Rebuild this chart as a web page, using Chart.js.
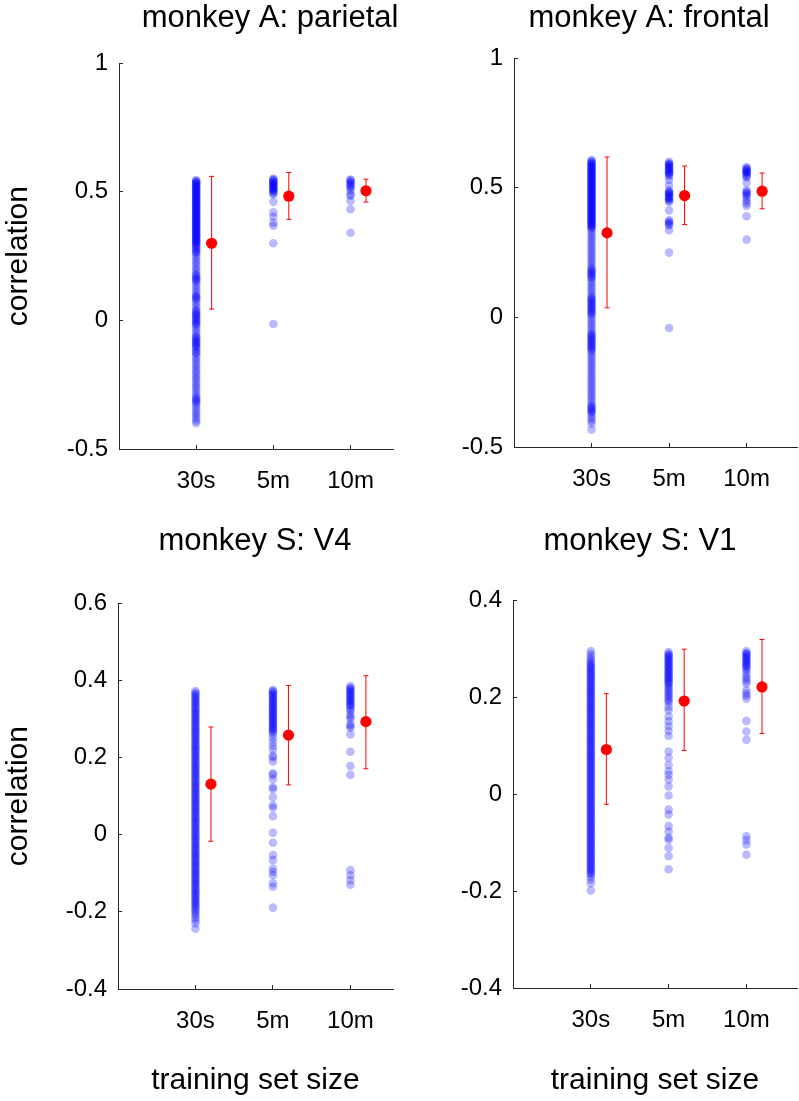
<!DOCTYPE html>
<html>
<head>
<meta charset="utf-8">
<script src="https://cdn.jsdelivr.net/npm/chart.js@4"></script>
<style>
  html, body { margin: 0; padding: 0; background: #fff; overflow: hidden; }
  body { width: 799px; height: 1101px; position: relative; }
  canvas { position: absolute; }
</style>
</head>
<body>
<canvas id="c1" width="540" height="520" style="left:0px;top:0px"></canvas>
<canvas id="c2" width="498" height="520" style="left:400px;top:0px"></canvas>
<canvas id="c3" width="510" height="581" style="left:0px;top:520px"></canvas>
<canvas id="c4" width="480" height="581" style="left:400px;top:520px"></canvas>
<script>
// categories on the x axis
const categories = ['30s', '5m', '10m'];
const catX = [1, 2, 3];
const meanOffset = 0.2;

// monkey A: parietal
const parietal30s = [0.545,0.542,0.54,0.535,0.532,0.53,0.525,0.522,0.52,0.515,0.512,0.51,0.505,0.502,0.5,0.495,0.492,0.49,0.485,0.482,0.48,0.475,0.472,0.47,0.465,0.462,0.46,0.455,0.452,0.45,0.445,0.442,0.44,0.435,0.432,0.43,0.425,0.422,0.42,0.415,0.412,0.41,0.405,0.402,0.4,0.395,0.392,0.39,0.385,0.382,0.38,0.375,0.372,0.37,0.365,0.362,0.36,0.355,0.352,0.35,0.345,0.342,0.34,0.335,0.332,0.33,0.325,0.322,0.32,0.315,0.312,0.31,0.305,0.302,0.3,0.295,0.29,0.285,0.28,0.275,0.27,0.265,0.26,
  0.25,0.24,0.23,0.22,0.21,0.2,0.19,0.18,0.175,0.17,0.165,0.16,0.155,0.15,0.14,0.13,0.12,0.11,0.1,0.095,0.09,0.085,0.08,0.07,0.06,0.05,0.04,0.035,0.03,0.025,0.02,0.015,0.01,0.005,0,-0.005,-0.01,-0.015,-0.02,-0.03,-0.04,-0.05,-0.06,-0.065,-0.07,-0.075,-0.08,-0.085,-0.09,-0.095,-0.1,-0.105,-0.11,-0.12,-0.125,-0.13,-0.14,-0.15,-0.16,-0.17,-0.18,-0.19,-0.2,-0.21,-0.22,-0.23,-0.24,-0.25,-0.26,-0.27,-0.28,-0.29,-0.3,-0.305,-0.31,-0.315,-0.32,-0.33,-0.34,-0.35,-0.36,-0.37,-0.38,-0.39,-0.4];
const parietal5m = [0.552,0.548,0.545,0.54,0.538,0.535,0.53,0.528,0.525,0.52,0.518,0.515,0.51,0.508,0.505,0.5,0.495,0.49,0.461,0.42,0.403,0.38,0.368,0.3,-0.014];
const parietal10m = [0.548,0.545,0.54,0.535,0.53,0.525,0.52,0.515,0.505,0.49,0.485,0.464,0.432,0.341];
const parietalMean = [0.30, 0.483, 0.504];
const parietalLo = [0.044, 0.393, 0.46];
const parietalHi = [0.56, 0.575, 0.549];
const parietalTicks = [-0.5, 0, 0.5, 1];
const parietalTickLabels = ['-0.5', '0', '0.5', '1'];

// monkey A: frontal
const frontal30s = [0.607,0.602,0.6,0.595,0.592,0.59,0.585,0.582,0.58,0.575,0.572,0.57,0.565,0.562,0.56,0.555,0.552,0.55,0.545,0.542,0.54,0.535,0.532,0.53,0.525,0.522,0.52,0.515,0.512,0.51,0.505,0.502,0.5,0.495,0.492,0.49,0.485,0.482,0.48,0.475,0.472,0.47,0.465,0.462,0.46,0.455,0.452,0.45,0.445,0.442,0.44,0.435,0.432,0.43,0.425,0.422,0.42,0.415,0.412,0.41,0.405,0.402,0.4,0.395,0.392,0.39,0.385,0.382,0.38,0.375,0.372,0.37,0.365,0.362,0.36,0.355,0.352,0.35,0.345,0.34,
  0.33,0.32,0.31,0.3,0.29,0.28,0.27,0.26,0.25,0.24,0.23,0.22,0.21,0.2,0.19,0.185,0.18,0.175,0.17,0.165,0.16,0.155,0.15,0.14,0.13,0.12,0.11,0.1,0.09,0.08,0.075,0.07,0.065,0.06,0.055,0.05,0.045,0.04,0.035,0.03,0.025,0.02,0.015,0.01,0,-0.01,-0.02,-0.03,-0.04,-0.05,-0.06,-0.065,-0.07,-0.075,-0.08,-0.085,-0.09,-0.095,-0.1,-0.105,-0.11,-0.115,-0.12,-0.125,-0.13,-0.14,-0.15,-0.16,-0.17,-0.18,-0.19,-0.2,-0.21,-0.22,-0.23,-0.24,-0.25,-0.26,-0.27,-0.28,-0.29,-0.3,-0.31,-0.32,-0.33,-0.34,-0.345,-0.35,-0.355,-0.36,-0.365,-0.37,-0.38,-0.39,-0.4,-0.41,-0.433];
const frontal5m = [0.6,0.595,0.59,0.59,0.585,0.58,0.575,0.575,0.57,0.565,0.56,0.56,0.555,0.55,0.545,0.53,0.51,0.49,0.485,0.48,0.48,0.475,0.47,0.465,0.46,0.46,0.455,0.45,0.445,0.413,0.375,0.37,0.365,0.36,0.355,0.336,0.25,-0.041];
const frontal10m = [0.58,0.575,0.57,0.57,0.565,0.56,0.56,0.555,0.55,0.545,0.54,0.52,0.49,0.485,0.48,0.475,0.47,0.46,0.45,0.44,0.43,0.39,0.3];
const frontalMean = [0.326, 0.47, 0.487];
const frontalLo = [0.037, 0.358, 0.419];
const frontalHi = [0.619, 0.584, 0.557];
const frontalTicks = [-0.5, 0, 0.5, 1];
const frontalTickLabels = ['-0.5', '0', '0.5', '1'];

// monkey S: V4
const v4_30s = [0.372,0.368,0.364,0.36,0.356,0.352,0.348,0.344,0.34,0.336,0.332,0.328,0.324,0.32,0.316,0.312,0.308,0.304,0.3,0.296,0.292,0.288,0.284,0.28,0.276,0.272,0.268,0.264,0.26,0.256,0.252,0.248,0.244,0.24,0.236,0.232,0.228,0.224,0.22,0.216,0.212,0.208,0.204,0.2,0.196,0.192,0.188,0.184,0.18,0.176,0.172,0.168,0.164,0.16,0.156,0.152,0.148,0.144,0.14,0.136,0.132,0.128,0.124,0.12,0.116,0.112,0.108,0.104,0.1,0.096,0.092,0.088,0.084,0.08,0.076,0.072,0.068,0.064,0.06,0.056,0.052,0.048,0.044,0.04,0.036,0.032,0.028,0.024,0.02,0.016,0.012,0.008,0.004,0,-0.004,-0.008,-0.012,-0.016,-0.02,-0.024,-0.028,-0.032,-0.036,-0.04,-0.044,-0.048,-0.052,-0.056,-0.06,-0.064,-0.068,-0.072,-0.076,-0.08,-0.084,-0.088,-0.092,-0.096,-0.1,-0.104,-0.108,-0.112,-0.116,-0.12,-0.124,-0.128,-0.132,-0.136,-0.14,-0.144,-0.148,-0.152,-0.156,-0.16,-0.164,-0.168,-0.172,-0.176,-0.18,-0.184,-0.188,
  -0.193,-0.198,-0.203,-0.208,-0.215,-0.222,-0.23,-0.244];
const v4_5m = [0.375,0.372,0.37,0.365,0.362,0.36,0.355,0.352,0.35,0.345,0.342,0.34,0.335,0.332,0.33,0.325,0.322,0.32,0.315,0.312,0.31,0.305,0.302,0.3,0.295,0.292,0.29,0.285,0.282,0.28,0.275,0.272,0.27,0.265,0.26,
  0.25,0.24,0.23,0.22,0.205,0.2,0.19,0.159,0.155,0.144,0.123,0.118,0.097,0.076,0.07,0.048,0.005,-0.021,-0.053,-0.066,-0.088,-0.096,-0.105,-0.126,-0.135,-0.189];
const v4_10m = [0.385,0.38,0.378,0.375,0.37,0.368,0.365,0.36,0.358,0.355,0.35,0.348,0.345,0.34,0.338,0.335,0.33,0.325,0.32,0.31,0.305,0.3,0.286,0.282,0.277,0.26,0.215,0.178,0.155,-0.092,-0.105,-0.118,-0.13];
const v4Mean = [0.131, 0.258, 0.293];
const v4Lo = [-0.017, 0.129, 0.171];
const v4Hi = [0.279, 0.387, 0.412];
const v4Ticks = [-0.4, -0.2, 0, 0.2, 0.4, 0.6];
const v4TickLabels = ['-0.4', '-0.2', '0', '0.2', '0.4', '0.6'];

// monkey S: V1
const v1_30s = [0.295,0.289,0.283,0.278,0.274,
  0.27,0.267,0.264,0.261,0.258,0.255,0.252,0.249,0.246,0.243,0.24,0.237,0.234,0.231,0.228,0.225,0.222,0.219,0.216,0.213,0.21,0.207,0.204,0.201,0.198,0.195,0.192,0.189,0.186,0.183,0.18,0.177,0.174,0.171,0.168,0.165,0.162,0.159,0.156,0.153,0.15,0.147,0.144,0.141,0.138,0.135,0.132,0.129,0.126,0.123,0.12,0.117,0.114,0.111,0.108,0.105,0.102,0.099,0.096,0.093,0.09,0.087,0.084,0.081,0.078,0.075,0.072,0.069,0.066,0.063,0.06,0.057,0.054,0.051,0.048,0.045,0.042,0.039,0.036,0.033,0.03,0.027,0.024,0.021,0.018,0.015,0.012,0.009,0.006,0.003,0,-0.003,-0.006,-0.009,-0.012,-0.015,-0.018,-0.021,-0.024,-0.027,-0.03,-0.033,-0.036,-0.039,-0.042,-0.045,-0.048,-0.051,-0.054,-0.057,-0.06,-0.063,-0.066,-0.069,-0.072,-0.075,-0.078,-0.081,-0.084,-0.087,-0.09,-0.093,-0.096,-0.099,-0.102,-0.105,-0.108,-0.111,-0.114,-0.117,-0.12,-0.123,-0.126,-0.129,-0.132,-0.135,-0.138,-0.141,-0.144,-0.147,-0.15,-0.153,-0.156,-0.159,-0.162,-0.165,
  -0.17,-0.176,-0.184,-0.199];
const v1_5m = [0.293,0.289,0.287,0.285,0.281,0.279,0.277,0.273,0.271,0.269,0.265,0.263,0.261,0.257,0.255,0.253,0.249,0.247,0.245,0.241,0.239,0.237,0.233,0.231,0.229,0.225,0.221,0.217,0.213,0.209,0.205,0.201,0.197,0.193,0.189,
  0.18,0.173,0.16,0.15,0.14,0.13,0.12,0.088,0.075,0.06,0.047,0.04,0.03,0.016,-0.003,-0.032,-0.042,-0.066,-0.077,-0.09,-0.094,-0.111,-0.128,-0.155];
const v1_10m = [0.295,0.291,0.289,0.287,0.283,0.281,0.279,0.275,0.273,0.271,0.267,0.265,0.263,0.259,0.255,0.249,0.243,0.238,0.233,0.228,0.214,0.208,0.203,0.197,0.151,0.129,0.112,-0.087,-0.095,-0.104,-0.125];
const v1Mean = [0.092, 0.192, 0.221];
const v1Lo = [-0.021, 0.09, 0.125];
const v1Hi = [0.207, 0.299, 0.319];
const v1Ticks = [-0.4, -0.2, 0, 0.2, 0.4];
const v1TickLabels = ['-0.4', '-0.2', '0', '0.2', '0.4'];

Chart.defaults.font.family = "'Liberation Sans', Arial, Helvetica, sans-serif";
Chart.defaults.color = '#000';

const axisColor = '#262626';
const red = 'rgb(255,0,0)';

function makePanel(id, p) {
  // blue points, one column per training set size
  var blue = [];
  [p.s30, p.s5, p.s10].forEach(function (vals, i) {
    vals.forEach(function (v) { blue.push({ x: catX[i], y: v }); });
  });

  var means = p.mean.map((v, i) => ({ x: catX[i] + meanOffset, y: v }));

  // error bars: vertical line with small caps at both ends
  var bars = p.lo.map((lo, i) => ({
    data: [{ x: catX[i] + meanOffset, y: lo }, { x: catX[i] + meanOffset, y: p.hi[i] }],
    showLine: true,
    borderColor: red,
    borderWidth: 1,
    pointStyle: 'line',
    pointRadius: 2.5,
    pointBorderColor: red,
    pointBorderWidth: 1,
    pointHoverRadius: 0
  }));

  new Chart(document.getElementById(id), {
    type: 'scatter',
    data: {
      datasets: [
        {
          data: means,
          pointRadius: 5.6,
          backgroundColor: red,
          borderWidth: 0,
          pointBorderWidth: 0
        },
        ...bars,
        {
          data: blue,
          pointRadius: 4.3,
          backgroundColor: 'rgba(0,0,255,0.27)',
          borderWidth: 0,
          pointBorderWidth: 0
        }
      ]
    },
    options: {
      responsive: false,
      animation: false,
      layout: { padding: 0 },
      plugins: {
        legend: { display: false },
        tooltip: { enabled: false },
        title: {
          display: true,
          text: p.title,
          font: { size: 31, weight: 'normal' },
          padding: p.titlePad
        }
      },
      scales: {
        x: {
          type: 'linear',
          min: 0,
          max: p.xMax,
          afterBuildTicks: s => { s.ticks = catX.map(v => ({ value: v })); },
          afterFit: s => { s.height = p.xHeight; },
          ticks: {
            font: { size: 24 },
            padding: 22,
            callback: v => categories[catX.indexOf(v)]
          },
          grid: { drawOnChartArea: false, tickLength: -4, color: axisColor },
          border: { display: true, color: axisColor, width: 1 },
          title: {
            display: p.xTitle,
            text: 'training set size',
            font: { size: 30 },
            padding: { top: 0, bottom: 2 }
          }
        },
        y: {
          type: 'linear',
          position: 'left',
          min: p.yMin,
          max: p.yMax,
          afterBuildTicks: s => { s.ticks = p.yTicks.map(v => ({ value: v })); },
          afterFit: s => { s.width = p.yWidth; },
          ticks: {
            font: { size: 24 },
            padding: 15,
            callback: v => p.yLabels[p.yTicks.indexOf(v)]
          },
          grid: { drawOnChartArea: false, tickLength: -4, color: axisColor },
          border: { display: true, color: axisColor, width: 1 },
          title: {
            display: p.yTitle,
            text: 'correlation',
            font: { size: 30 },
            padding: { top: 1, bottom: 0 }
          }
        },
        // empty right-hand box, only reserves space so the title sits where it should
        yR: {
          type: 'linear',
          position: 'right',
          min: 0,
          max: 1,
          afterFit: s => { s.width = p.rightWidth; },
          ticks: { display: false },
          grid: { display: false },
          border: { display: false }
        }
      }
    }
  });
}

makePanel('c1', {
  title: 'monkey A: parietal',
  s30: parietal30s, s5: parietal5m, s10: parietal10m,
  mean: parietalMean, lo: parietalLo, hi: parietalHi,
  yMin: -0.5, yMax: 1, yTicks: parietalTicks, yLabels: parietalTickLabels,
  xMax: 3.55, yWidth: 119, rightWidth: 147, xHeight: 71,
  titlePad: { top: 0, bottom: 26 }, yTitle: true, xTitle: false
});

makePanel('c2', {
  title: 'monkey A: frontal',
  s30: frontal30s, s5: frontal5m, s10: frontal10m,
  mean: frontalMean, lo: frontalLo, hi: frontalHi,
  yMin: -0.5, yMax: 1, yTicks: frontalTicks, yLabels: frontalTickLabels,
  xMax: 3.65, yWidth: 114, rightWidth: 101, xHeight: 73,
  titlePad: { top: 0, bottom: 21 }, yTitle: false, xTitle: false
});

makePanel('c3', {
  title: 'monkey S: V4',
  s30: v4_30s, s5: v4_5m, s10: v4_10m,
  mean: v4Mean, lo: v4Lo, hi: v4Hi,
  yMin: -0.4, yMax: 0.6, yTicks: v4Ticks, yLabels: v4TickLabels,
  xMax: 3.55, yWidth: 118, rightWidth: 117, xHeight: 112,
  titlePad: { top: 3, bottom: 43 }, yTitle: true, xTitle: true
});

makePanel('c4', {
  title: 'monkey S: V1',
  s30: v1_30s, s5: v1_5m, s10: v1_10m,
  mean: v1Mean, lo: v1Lo, hi: v1Hi,
  yMin: -0.4, yMax: 0.4, yTicks: v1Ticks, yLabels: v1TickLabels,
  xMax: 3.65, yWidth: 113, rightWidth: 83, xHeight: 113,
  titlePad: { top: 3, bottom: 40 }, yTitle: false, xTitle: true
});
</script>
</body>
</html>
